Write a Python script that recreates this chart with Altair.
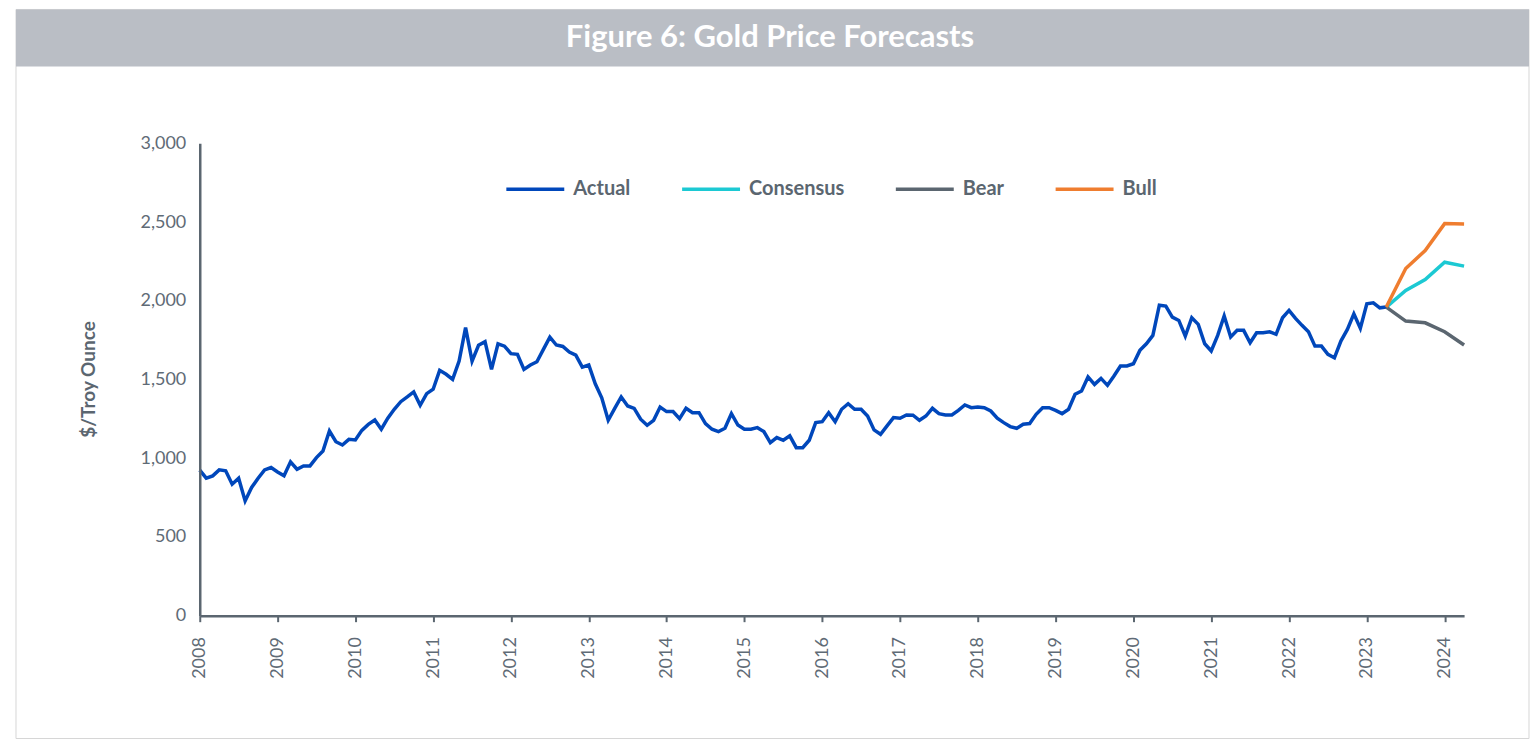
import altair as alt
import pandas as pd

# ---- data ----
start_year = 2008
actual_prices = [
    924, 873, 888, 926, 920, 835, 873, 729, 814, 873, 926, 941,
    913, 888, 977, 930, 951, 951, 1004, 1046, 1173, 1105, 1084, 1120,
    1116, 1177, 1215, 1243, 1184, 1254, 1311, 1359, 1389, 1421, 1336, 1410,
    1438, 1558, 1533, 1501, 1617, 1829, 1617, 1717, 1740, 1564, 1727, 1712,
    1664, 1660, 1564, 1592, 1613, 1691, 1769, 1719, 1710, 1674, 1655, 1579,
    1592, 1473, 1384, 1241, 1317, 1389, 1332, 1317, 1248, 1209, 1241, 1325,
    1296, 1296, 1251, 1317, 1289, 1289, 1220, 1184, 1169, 1190, 1283, 1211,
    1184, 1184, 1194, 1169, 1099, 1131, 1114, 1142, 1067, 1067, 1114, 1226,
    1232, 1289, 1232, 1311, 1346, 1311, 1311, 1268, 1180, 1152, 1205, 1258,
    1254, 1275, 1273, 1241, 1268, 1317, 1283, 1275, 1275, 1304, 1338, 1321,
    1325, 1321, 1300, 1254, 1226, 1201, 1190, 1216, 1220, 1279, 1321, 1321,
    1304, 1283, 1311, 1406, 1427, 1516, 1469, 1507, 1463, 1522, 1586, 1586,
    1600, 1685, 1727, 1780, 1972, 1966, 1896, 1875, 1776, 1892, 1850, 1727,
    1681, 1780, 1903, 1770, 1812, 1812, 1733, 1797, 1797, 1803, 1787, 1892,
    1939, 1888, 1844, 1803, 1712, 1712, 1660, 1638, 1744, 1818, 1917, 1825,
    1981, 1987, 1955, 1960,
]
forecast_times = [2023.25, 2023.5, 2023.75, 2024.0, 2024.25]
consensus = [1960, 2066, 2135, 2245, 2220]
bear = [1960, 1871, 1860, 1803, 1719]
bull = [1960, 2205, 2319, 2490, 2488]

series_names = ["Actual", "Consensus", "Bear", "Bull"]
series_colors = ["#0047bb", "#1cc9d3", "#5b6670", "#ef7d2f"]
year_ticks = list(range(2008, 2025))
y_ticks = [0, 500, 1000, 1500, 2000, 2500, 3000]
title_text = "Figure 6: Gold Price Forecasts"
y_title = "$/Troy Ounce"

rows = []
for i, v in enumerate(actual_prices):
    rows.append({"t": start_year + i / 12.0, "value": v, "series": "Actual"})
for name, vals in (("Consensus", consensus), ("Bear", bear), ("Bull", bull)):
    for t, v in zip(forecast_times, vals):
        rows.append({"t": t, "value": v, "series": name})
df = pd.DataFrame(rows)

FONT = "Lato"
AX = "#5b6670"
LBL = "#5f6b76"

W, H = 1266, 473
one = pd.DataFrame({"a": [0]})

frame = alt.Chart(one).mark_rect(fillOpacity=0, stroke="#d6d6d6", strokeWidth=1).encode(
    x=alt.value(-184), x2=alt.value(1331), y=alt.value(-134), y2=alt.value(596)
)
bar = alt.Chart(one).mark_rect(fill="#babec5").encode(
    x=alt.value(-184), x2=alt.value(1331), y=alt.value(-134), y2=alt.value(-77)
)
title = alt.Chart(one).mark_text(
    text=title_text, font=FONT, fontSize=31, fontWeight="bold", color="white",
    align="center", baseline="middle",
).encode(x=alt.value(571), y=alt.value(-105))

lines = alt.Chart(df).mark_line(strokeWidth=3.5).encode(
    x=alt.X("t:Q", scale=alt.Scale(domain=[2008, 2024.25], nice=False, zero=False),
            axis=alt.Axis(values=year_ticks, format="d", labelAngle=270, title=None,
                          ticks=True, tickSize=6, tickWidth=2, tickColor=AX,
                          labelPadding=15, labelFontSize=18, labelColor=LBL,
                          labelFont=FONT, domainColor=AX, domainWidth=2.5, grid=False,
                          labelFlush=False, labelOverlap=False, zindex=1)),
    y=alt.Y("value:Q", scale=alt.Scale(domain=[0, 3000], nice=False),
            axis=alt.Axis(values=y_ticks, format=",d", title=y_title, ticks=False,
                          labelPadding=14, labelFontSize=18, labelColor=LBL, labelFont=FONT,
                          domainColor=AX, domainWidth=2.5, grid=False,
                          titleFont=FONT, titleFontSize=19, titleFontWeight="bold",
                          titleColor=AX, titleAngle=270, titleX=-111, titleY=236,
                          titleAlign="center", titleBaseline="middle", zindex=1)),
    color=alt.Color("series:N", scale=alt.Scale(domain=series_names, range=series_colors),
                    sort=series_names,
                    legend=alt.Legend(title=None, orient="none", legendX=305, legendY=15,
                                      direction="horizontal", symbolType="stroke",
                                      symbolSize=3364, symbolStrokeWidth=3.5,
                                      labelFont=FONT, labelFontSize=20, labelFontWeight="bold",
                                      labelColor=AX, labelOffset=7, columnPadding=44)),
    detail="series:N",
)

chart = alt.layer(frame, bar, title, lines).properties(
    width=W, height=H, padding={"left": 7, "top": 0, "right": 0, "bottom": 0}
).configure(background="white", view=alt.ViewConfig(strokeWidth=0, stroke="transparent"))

chart.save("out.html", embed_options={"renderer": "svg", "actions": False})
